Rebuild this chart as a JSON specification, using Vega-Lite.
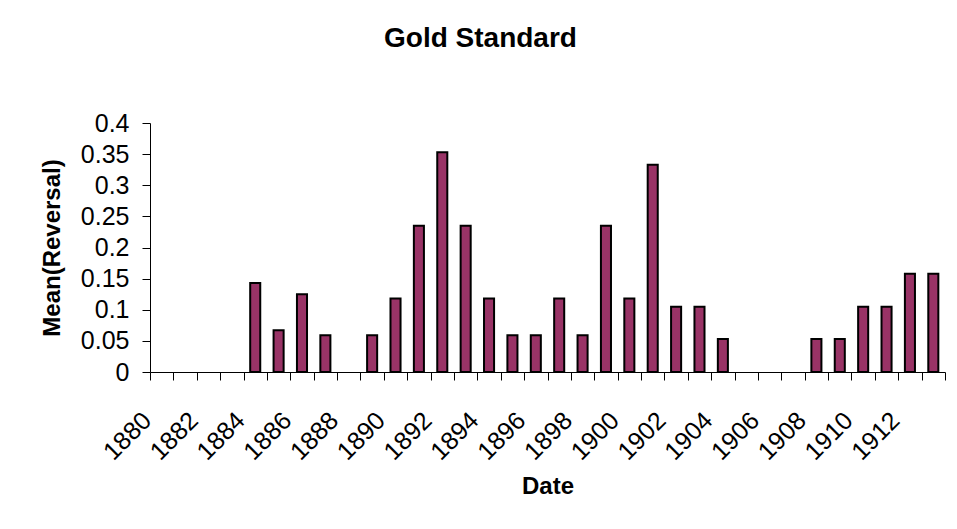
{
  "$schema": "https://vega.github.io/schema/vega-lite/v6.json",
  "width": 795,
  "height": 249,
  "autosize": {"type": "none"},
  "padding": {"left": 150, "top": 123, "right": 12, "bottom": 157},
  "background": "white",
  "title": {"text": "Gold Standard", "font": "Liberation Sans", "fontSize": 28, "fontWeight": "bold", "color": "black", "anchor": "middle", "dx": -67, "offset": 58},
  "data": {"values": [
    {"year": 1884, "mean": 0.143},
    {"year": 1885, "mean": 0.067},
    {"year": 1886, "mean": 0.125},
    {"year": 1887, "mean": 0.059},
    {"year": 1889, "mean": 0.059},
    {"year": 1890, "mean": 0.118},
    {"year": 1891, "mean": 0.235},
    {"year": 1892, "mean": 0.353},
    {"year": 1893, "mean": 0.235},
    {"year": 1894, "mean": 0.118},
    {"year": 1895, "mean": 0.059},
    {"year": 1896, "mean": 0.059},
    {"year": 1897, "mean": 0.118},
    {"year": 1898, "mean": 0.059},
    {"year": 1899, "mean": 0.235},
    {"year": 1900, "mean": 0.118},
    {"year": 1901, "mean": 0.333},
    {"year": 1902, "mean": 0.105},
    {"year": 1903, "mean": 0.105},
    {"year": 1904, "mean": 0.053},
    {"year": 1908, "mean": 0.053},
    {"year": 1909, "mean": 0.053},
    {"year": 1910, "mean": 0.105},
    {"year": 1911, "mean": 0.105},
    {"year": 1912, "mean": 0.158},
    {"year": 1913, "mean": 0.158}
  ]},
  "mark": {"type": "bar", "fill": "#993366", "stroke": "black", "strokeWidth": 2, "width": {"band": 0.43}},
  "encoding": {
    "x": {
      "field": "year", "type": "ordinal",
      "scale": {"domain": [1880,1881,1882,1883,1884,1885,1886,1887,1888,1889,1890,1891,1892,1893,1894,1895,1896,1897,1898,1899,1900,1901,1902,1903,1904,1905,1906,1907,1908,1909,1910,1911,1912,1913], "paddingInner": 0, "paddingOuter": 0},
      "axis": {
        "title": "Date", "titleFontWeight": "bold", "titleY": 121, "titleBaseline": "alphabetic",
        "labelAngle": -45, "labelAlign": "right", "labelBaseline": "middle",
        "labelExpr": "datum.value % 2 == 0 ? datum.label : ''",
        "tickBand": "extent", "labelOffset": -15, "labelPadding": 36, "tickSize": 8
      }
    },
    "y": {
      "field": "mean", "type": "quantitative",
      "scale": {"domain": [0, 0.4]},
      "axis": {
        "values": [0, 0.05, 0.1, 0.15, 0.2, 0.25, 0.3, 0.35, 0.4],
        "format": "~g", "title": "Mean(Reversal)", "titleFontWeight": "bold",
        "titleX": -98, "titleBaseline": "middle", "tickSize": 8, "labelPadding": 13
      }
    }
  },
  "config": {
    "view": {"stroke": null},
    "axis": {
      "labelFont": "Liberation Sans", "titleFont": "Liberation Sans",
      "labelFontSize": 25, "titleFontSize": 24,
      "labelColor": "black", "titleColor": "black",
      "domainColor": "black", "tickColor": "black",
      "grid": false, "labelOverlap": false
    }
  }
}
